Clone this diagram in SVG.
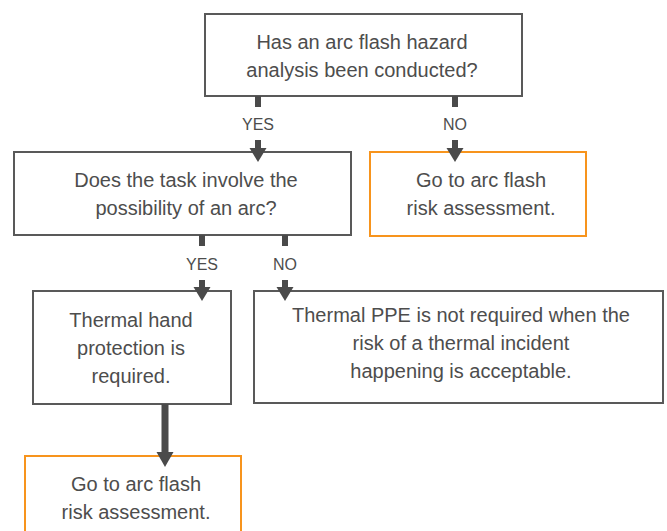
<svg xmlns="http://www.w3.org/2000/svg" width="667" height="531" viewBox="0 0 667 531">
<style>
.box{fill:#fff;stroke:#595959;stroke-width:2}
.obox{fill:#fff;stroke:#f7941d;stroke-width:2}
.t{font-family:"Liberation Sans",Arial,sans-serif;font-size:20px;fill:#4d4d4d;text-anchor:middle}
.lbl{font-family:"Liberation Sans",Arial,sans-serif;font-size:16px;fill:#4d4d4d;text-anchor:middle}
.bar{fill:#4a4a4a}
</style>
<rect width="667" height="531" fill="#fff"/>
<g id="n1"><rect class="box" x="205" y="14" width="317" height="82"/>
<text class="t" x="362" y="49">Has an arc flash hazard</text>
<text class="t" x="362" y="77">analysis been conducted?</text></g>
<g id="n2"><rect class="box" x="14" y="152" width="337" height="83"/>
<text class="t" x="186" y="187">Does the task involve the</text>
<text class="t" x="186" y="215">possibility of an arc?</text></g>
<g id="n3"><rect class="obox" x="370" y="152" width="216" height="84"/>
<text class="t" x="481" y="187">Go to arc flash</text>
<text class="t" x="481" y="215">risk assessment.</text></g>
<g id="n4"><rect class="box" x="33" y="291" width="198" height="113"/>
<text class="t" x="131" y="327">Thermal hand</text>
<text class="t" x="131" y="355">protection is</text>
<text class="t" x="131" y="383">required.</text></g>
<g id="n5"><rect class="box" x="254" y="291" width="409" height="112"/>
<text class="t" x="461" y="322">Thermal PPE is not required when the</text>
<text class="t" x="461" y="350">risk of a thermal incident</text>
<text class="t" x="461" y="378">happening is acceptable.</text></g>
<g id="n6"><rect class="obox" x="25" y="456" width="216" height="90"/>
<text class="t" x="136" y="491">Go to arc flash</text>
<text class="t" x="136" y="519">risk assessment.</text></g>
<g id="connectors">
<rect class="bar" x="255" y="96" width="6" height="11"/>
<text class="lbl" x="258" y="130">YES</text>
<rect class="bar" x="255" y="140" width="6" height="10"/>
<polygon class="bar" points="249.5,148 266.5,148 258,162"/>
<rect class="bar" x="452" y="96" width="6" height="11"/>
<text class="lbl" x="455" y="130">NO</text>
<rect class="bar" x="452" y="140" width="6" height="10"/>
<polygon class="bar" points="446.5,148 463.5,148 455,162"/>
<rect class="bar" x="199" y="235" width="6" height="11"/>
<text class="lbl" x="202" y="270">YES</text>
<rect class="bar" x="199" y="280" width="6" height="9"/>
<polygon class="bar" points="193.5,287 210.5,287 202,301"/>
<rect class="bar" x="282" y="235" width="6" height="11"/>
<text class="lbl" x="285" y="270">NO</text>
<rect class="bar" x="282" y="280" width="6" height="9"/>
<polygon class="bar" points="276.5,287 293.5,287 285,301"/>
<rect class="bar" x="161.5" y="404" width="7" height="50"/>
<polygon class="bar" points="156.5,452 173.5,452 165,467"/>
</g>
</svg>
